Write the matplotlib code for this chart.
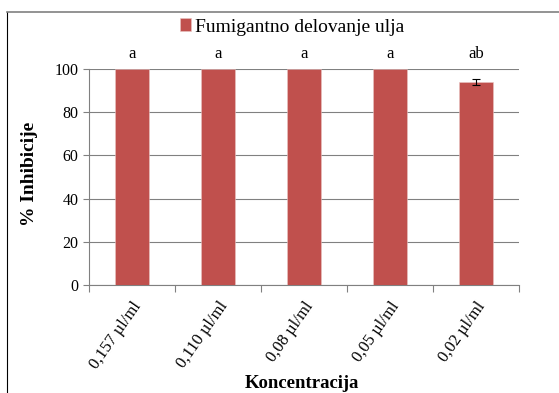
import matplotlib.pyplot as plt
from matplotlib.lines import Line2D

plt.rcParams['font.family'] = ['Liberation Serif', 'DejaVu Serif']

# data
concentrations = ["0,157 µl/ml", "0,110 µl/ml", "0,08 µl/ml", "0,05 µl/ml", "0,02 µl/ml"]
inhibition = [100, 100, 100, 100, 94]
errors = [0, 0, 0, 0, 1.5]
letters = ["a", "a", "a", "a", "ab"]
series_name = "Fumigantno delovanje ulja"

W, H = 559, 393
fig = plt.figure(figsize=(W / 100, H / 100), dpi=100)
ax = fig.add_axes([89 / W, 1 - 285 / H, (519 - 89) / W, (285 - 69) / H])

x = list(range(len(concentrations)))
ax.bar(x, inhibition, width=0.4, color="#C0504D", edgecolor="#E8C4C3", linewidth=0.4,
       label=series_name, zorder=3)
ax.errorbar([i for i, e in zip(x, errors) if e > 0], [v for v, e in zip(inhibition, errors) if e > 0],
            yerr=[e for e in errors if e > 0], fmt="none", ecolor="black", elinewidth=0.8,
            capsize=3, capthick=0.8, zorder=4)

for i, lt in enumerate(letters):
    ax.text(i, 107, lt, ha="center", va="center", fontsize=12, clip_on=False)

ax.set_ylim(0, 100)
ax.set_xlim(-0.5, len(x) - 0.5)
ax.set_yticks(range(0, 101, 20))
ax.yaxis.grid(True, color="#808080", linewidth=0.8, zorder=0)
ax.set_axisbelow(True)

# ticks between categories
ax.set_xticks([i - 0.5 for i in range(len(x) + 1)], minor=False)
ax.set_xticklabels([])
ax.set_xticks(x, minor=True)
ax.set_xticklabels(concentrations, minor=True, rotation=55, ha="right",
                   rotation_mode="anchor", fontsize=12)
ax.tick_params(axis="x", which="minor", length=0, pad=10)
ax.tick_params(axis="x", which="major", length=5, color="#808080", direction="out")
ax.tick_params(axis="y", length=4, color="#808080", labelsize=11.5)

for s in ["top", "right"]:
    ax.spines[s].set_visible(False)
for s in ["left", "bottom"]:
    ax.spines[s].set_color("#808080")

fig.text(30 / W, 1 - 174 / H, "% Inhibicije", rotation=90, ha="center", va="center",
         fontsize=14, fontweight="bold")
fig.text(302 / W, 1 - 383 / H, "Koncentracija", ha="center", va="center",
         fontsize=13.5, fontweight="bold")

h, l = ax.get_legend_handles_labels()
fig.legend(h, l, loc="center", bbox_to_anchor=(292 / W, 1 - 27 / H), frameon=False,
           fontsize=14, handlelength=0.6, handleheight=0.6, handletextpad=0.2)

# outer chart border
fig.add_artist(Line2D([7 / W, 7 / W], [0, 1 - 12 / H], color="black", linewidth=0.8))
fig.add_artist(Line2D([7 / W, 1], [1 - 12 / H, 1 - 12 / H], color="#808080", linewidth=1.2))

fig.savefig("out.png", dpi=100)
